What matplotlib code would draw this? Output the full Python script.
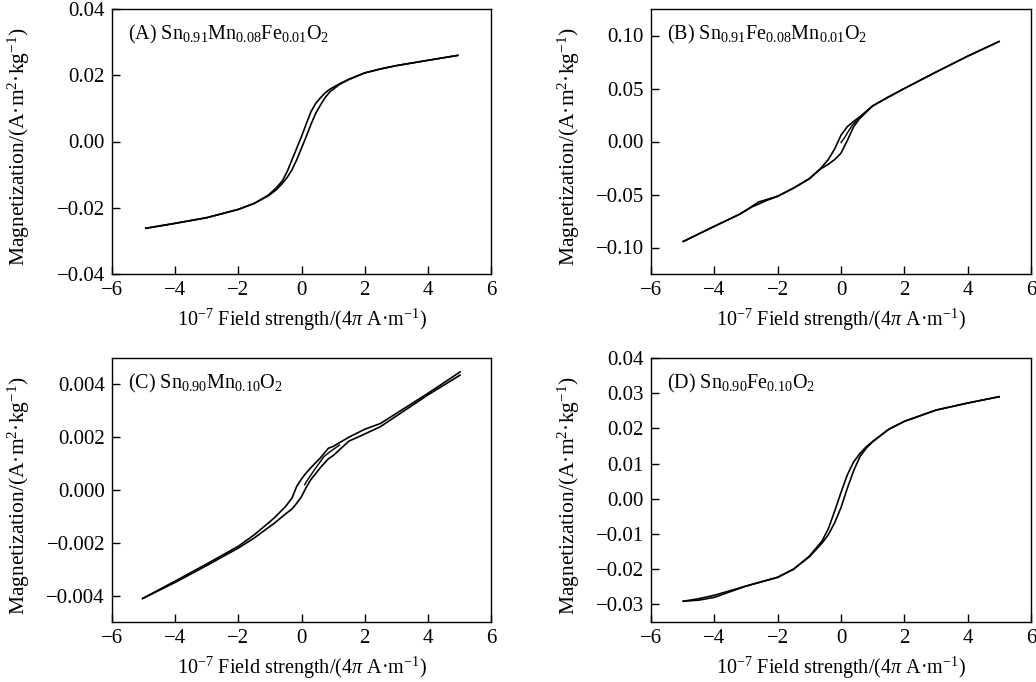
import matplotlib
matplotlib.use("Agg")
import matplotlib.pyplot as plt
from matplotlib.ticker import FuncFormatter, MultipleLocator

plt.rcParams['font.family'] = ['Liberation Serif', 'DejaVu Serif']
plt.rcParams['mathtext.fontset'] = 'custom'
plt.rcParams['mathtext.rm'] = 'Liberation Serif'
plt.rcParams['mathtext.it'] = 'Liberation Serif:italic'
plt.rcParams['mathtext.bf'] = 'Liberation Serif:bold'

# ---------------- data ----------------
# Panel A: Sn0.91Mn0.08Fe0.01O2
a_x = [-4.93, -4, -3, -2, -1.5, -1.05, -0.8, -0.6, -0.45, -0.3, -0.15, 0, 0.15, 0.3, 0.45, 0.6, 0.75, 0.9, 1.2, 1.5, 2, 2.5, 3, 4, 4.95]
a_up = [-0.0262, -0.0247, -0.0230, -0.0205, -0.0187, -0.0162, -0.0140, -0.0118, -0.0090, -0.0055, -0.0020, 0.0015, 0.0053, 0.0090, 0.0115, 0.0132, 0.0147, 0.0158, 0.0174, 0.0188, 0.0207, 0.0219, 0.0229, 0.0245, 0.0260]
a_lo = [-0.0262, -0.0247, -0.0230, -0.0205, -0.0187, -0.0164, -0.0146, -0.0126, -0.0108, -0.0085, -0.0055, -0.0020, 0.0015, 0.0052, 0.0085, 0.0110, 0.0133, 0.0150, 0.0172, 0.0187, 0.0207, 0.0219, 0.0229, 0.0245, 0.0260]

# Panel B: Sn0.91Fe0.08Mn0.01O2
b_x = [-4.98, -4, -3.2, -2.8, -2.6, -2.35, -2, -1.5, -1, -0.66, -0.4, -0.2, 0, 0.2, 0.4, 0.6, 1, 1.5, 2, 3, 4, 4.99]
b_up = [-0.0943, -0.0800, -0.0686, -0.0610, -0.0570, -0.0548, -0.0515, -0.0440, -0.0350, -0.0260, -0.0170, -0.0070, 0.0060, 0.0140, 0.0190, 0.0235, 0.0336, 0.0420, 0.0500, 0.0655, 0.0805, 0.0943]
b_lo = [-0.0943, -0.0800, -0.0686, -0.0615, -0.0590, -0.0556, -0.0518, -0.0440, -0.0352, -0.0262, -0.0215, -0.0170, -0.0110, 0.0010, 0.0140, 0.0220, 0.0336, 0.0420, 0.0500, 0.0655, 0.0805, 0.0943]
b_vx = [0, 0.1, 0.2, 0.35, 0.5, 0.7]
b_vy = [-0.0010, 0.0030, 0.0080, 0.0150, 0.0200, 0.0250]

# Panel C: Sn0.90Mn0.10O2
c_x = [-5.03, -4, -3, -2, -1.5, -1.0, -0.85, -0.5, -0.3, -0.15, 0, 0.15, 0.3, 0.6, 0.85, 1.0, 1.5, 2, 2.5, 3, 4, 5.02]
c_up = [-0.00411, -0.00345, -0.00280, -0.00213, -0.00170, -0.00120, -0.00104, -0.00062, -0.00030, 0.00014, 0.00042, 0.00065, 0.00085, 0.00122, 0.00158, 0.00165, 0.00200, 0.00230, 0.00252, 0.00290, 0.00366, 0.00447]
c_lo = [-0.00411, -0.00350, -0.00286, -0.00220, -0.00182, -0.00138, -0.00125, -0.00090, -0.00072, -0.00050, -0.00025, 0.00010, 0.00040, 0.00085, 0.00118, 0.00130, 0.00185, 0.00212, 0.00240, 0.00280, 0.00360, 0.00435]
c_vx = [0.1, 0.16, 0.4, 0.7, 0.9, 1.2]
c_vy = [0.00020, 0.00032, 0.00075, 0.00125, 0.00145, 0.00170]

# Panel D: Sn0.90Fe0.10O2
d_x = [-4.98, -4.5, -4, -3, -2, -1.5, -1, -0.6, -0.4, -0.2, 0, 0.2, 0.4, 0.6, 0.8, 1, 1.5, 2, 3, 4, 4.99]
d_up = [-0.0291, -0.0284, -0.0274, -0.0248, -0.0223, -0.0200, -0.0163, -0.0120, -0.0085, -0.0035, 0.0018, 0.0068, 0.0105, 0.0129, 0.0148, 0.0163, 0.0197, 0.0220, 0.0252, 0.0272, 0.0290]
d_lo = [-0.0291, -0.0288, -0.0280, -0.0248, -0.0223, -0.0200, -0.0165, -0.0126, -0.0102, -0.0068, -0.0025, 0.0030, 0.0080, 0.0120, 0.0144, 0.0162, 0.0197, 0.0220, 0.0252, 0.0272, 0.0290]

labels = [r"(A) $\mathregular{Sn_{0.91}Mn_{0.08}Fe_{0.01}O_{2}}$",
          r"(B) $\mathregular{Sn_{0.91}Fe_{0.08}Mn_{0.01}O_{2}}$",
          r"(C) $\mathregular{Sn_{0.90}Mn_{0.10}O_{2}}$",
          r"(D) $\mathregular{Sn_{0.90}Fe_{0.10}O_{2}}$"]
ylims = [(-0.04, 0.04), (-0.125, 0.125), (-0.005, 0.005), (-0.035, 0.04)]
ysteps = [0.02, 0.05, 0.002, 0.01]
ydecimals = [2, 2, 3, 2]
xticks = [-6, -4, -2, 0, 2, 4, 6]

xlabel = r"10$^{-7}$ Field strength/(4$\mathit{\pi}$ A·m$^{-1}$)"
ylabel = r"Magnetization/(A·m$^{2}$·kg$^{-1}$)"


def make_fmt(nd):
    def f(v, pos):
        s = f"{v:.{nd}f}"
        if float(s) == 0:
            s = s.lstrip('-')
        return s.replace('-', '\u2212')
    return FuncFormatter(f)


W, H = 1036, 682
fig = plt.figure(figsize=(W / 100, H / 100), dpi=100)
rects = [(112, 9, 491, 274), (651, 9, 1031, 274), (112, 358, 491, 622), (651, 358, 1031, 622)]
ylabel_x = [-0.211, -0.182, -0.211, -0.182]
axes = []
for (l, t, r, b) in rects:
    axes.append(fig.add_axes([l / W, 1 - b / H, (r - l) / W, (b - t) / H]))

series = [(a_x, a_up, a_lo, None, None),
          (b_x, b_up, b_lo, b_vx, b_vy),
          (c_x, c_up, c_lo, c_vx, c_vy),
          (d_x, d_up, d_lo, None, None)]

for i, ax in enumerate(axes):
    x, up, lo, vx, vy = series[i]
    ax.plot(x, up, color='black', lw=1.2)
    ax.plot(x, lo, color='black', lw=1.2)
    if vx is not None:
        ax.plot(vx, vy, color='black', lw=1.0)
    ax.set_xlim(-6, 6)
    ax.set_ylim(*ylims[i])
    ax.set_xticks(xticks)
    ax.xaxis.set_major_formatter(make_fmt(0))
    ax.yaxis.set_major_locator(MultipleLocator(ysteps[i]))
    ax.yaxis.set_major_formatter(make_fmt(ydecimals[i]))
    ax.tick_params(direction='in', length=6, width=1.0, labelsize=15,
                   top=False, right=False, pad=5)
    for sp in ax.spines.values():
        sp.set_linewidth(1.0)
    ax.set_xlabel(xlabel, fontsize=14.5, labelpad=5)
    ax.set_ylabel(ylabel, fontsize=15.5)
    ax.yaxis.set_label_coords(ylabel_x[i], 0.48)
    ax.text(0.042, 0.905, labels[i], transform=ax.transAxes, fontsize=14.5,
            ha='left', va='center')

fig.savefig("out.png", dpi=100)
